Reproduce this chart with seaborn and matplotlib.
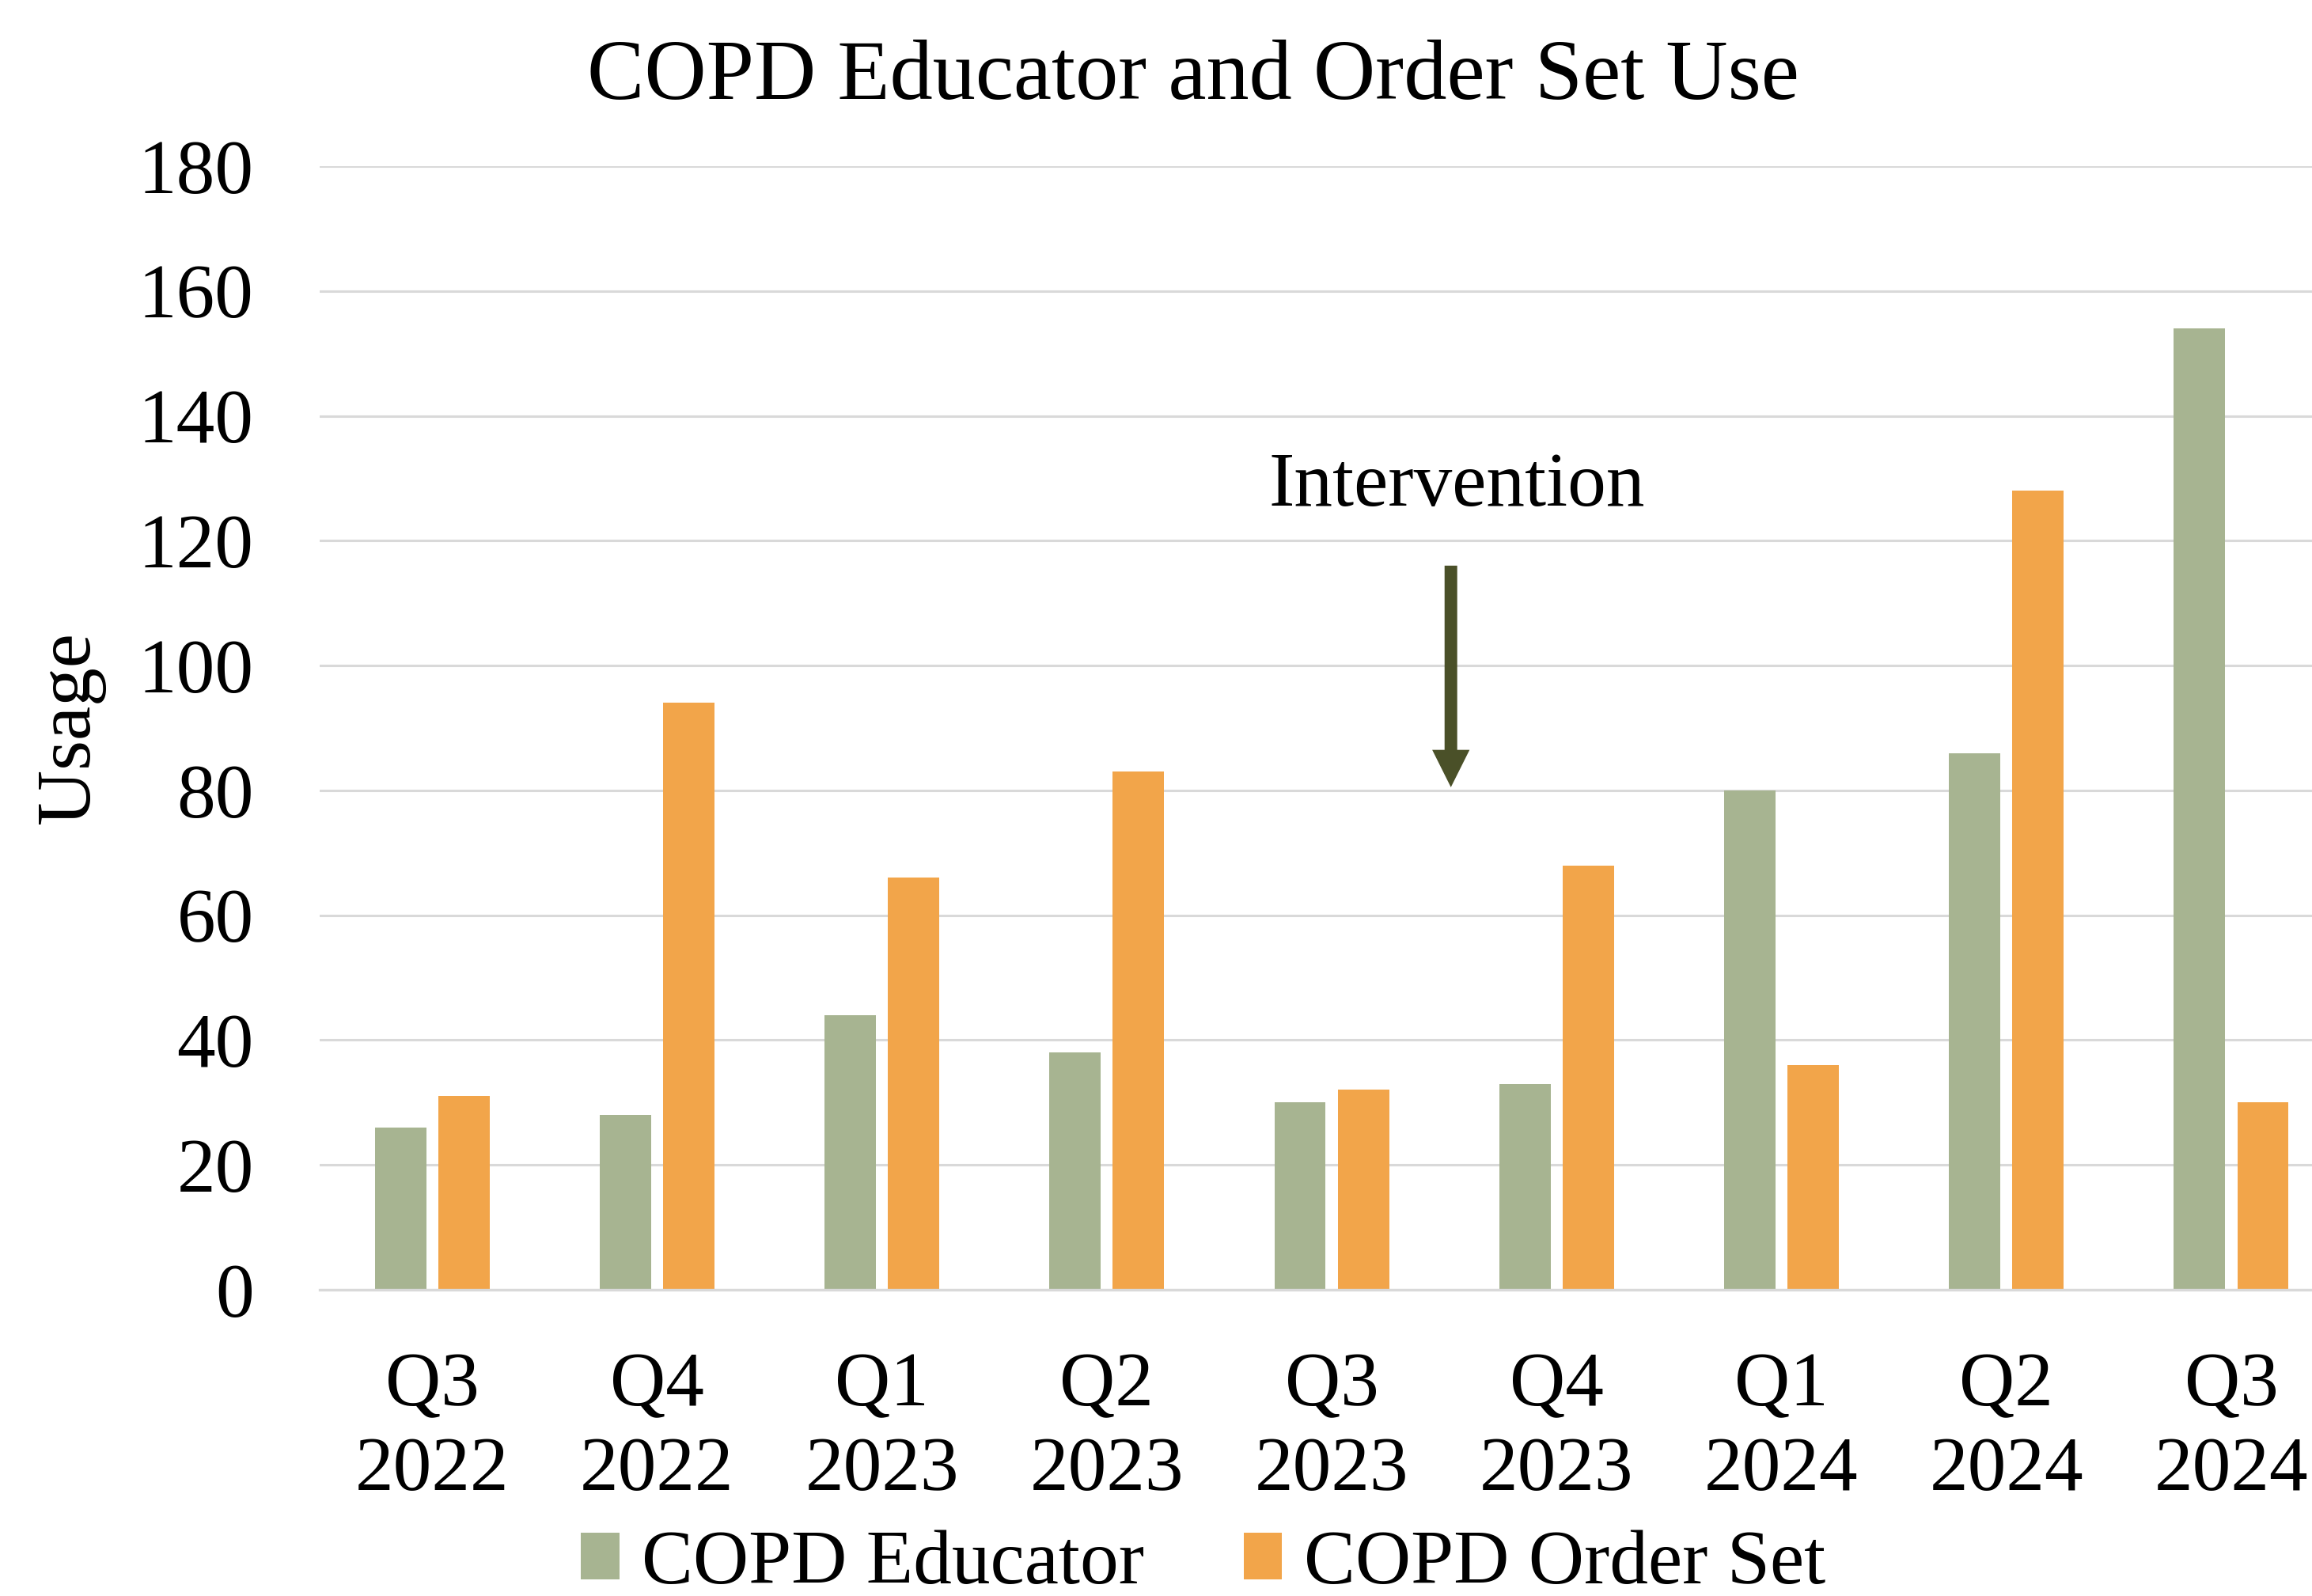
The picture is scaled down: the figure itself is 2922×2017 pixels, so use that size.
import matplotlib
matplotlib.use("Agg")
import matplotlib.pyplot as plt
from matplotlib.patches import FancyArrowPatch
import pandas as pd
import seaborn as sns

# Quarterly usage counts
quarters = ["Q3\n2022", "Q4\n2022", "Q1\n2023", "Q2\n2023", "Q3\n2023",
            "Q4\n2023", "Q1\n2024", "Q2\n2024", "Q3\n2024"]
educator = [26, 28, 44, 38, 30, 33, 80, 86, 154]
order_set = [31, 94, 66, 83, 32, 68, 36, 128, 30]
series_names = ["COPD Educator", "COPD Order Set"]
series_colors = ["#A7B491", "#F2A54A"]
y_ticks = [0, 20, 40, 60, 80, 100, 120, 140, 160, 180]

# Intervention marker (category position, arrow start/end, label height)
intervention_x = 4.53
arrow_from, arrow_to = 116.0, 80.5
label_y = 125.6

df = pd.DataFrame({
    "quarter": quarters * 2,
    "usage": educator + order_set,
    "series": [series_names[0]] * len(quarters) + [series_names[1]] * len(quarters),
})

sns.set_style("white")
plt.rcParams["font.family"] = ["Liberation Serif", "DejaVu Serif"]
for key in ["text.color", "axes.labelcolor", "xtick.color", "ytick.color"]:
    plt.rcParams[key] = "black"

fig = plt.figure(figsize=(29.22, 20.17), dpi=100)
ax = fig.add_axes([0.1383, 0.1919, 0.8754, 0.704])

sns.barplot(data=df, x="quarter", y="usage", hue="series", order=quarters,
            hue_order=series_names, palette=series_colors, width=0.564, gap=0.19,
            linewidth=0, saturation=1, ax=ax)

ax.set_xlim(-0.5, len(quarters) - 0.5)
ax.set_ylim(0, 180)
ax.set_yticks(y_ticks)
ax.set_axisbelow(True)
ax.yaxis.grid(True, color="#D9D9D9", linewidth=2.2)
ax.xaxis.grid(False)
for side in ["top", "right", "left"]:
    ax.spines[side].set_visible(False)
ax.spines["bottom"].set_color("#D9D9D9")
ax.spines["bottom"].set_linewidth(2.4)

ax.tick_params(axis="y", length=0, pad=60, labelsize=70, labelcolor="black")
ax.tick_params(axis="x", length=0, pad=57, labelsize=70, labelcolor="black")
for lbl in ax.get_xticklabels():
    lbl.set_linespacing(1.26)

ax.set_xlabel("")
ax.set_ylabel("Usage", fontsize=70, labelpad=30, color="black")

# Intervention annotation
arrow = FancyArrowPatch((intervention_x, arrow_from), (intervention_x, arrow_to),
                        arrowstyle="simple,head_width=34,head_length=34,tail_width=11.5",
                        mutation_scale=1, shrinkA=0, shrinkB=0,
                        color="#4A5028", linewidth=0)
ax.add_patch(arrow)
ax.text(intervention_x + 0.026, label_y, "Intervention", fontsize=70,
        ha="center", va="baseline", color="black")

fig.text(0.516, 0.938, "COPD Educator and Order Set Use", fontsize=78,
         ha="center", va="baseline", color="black")

handles, labels = ax.get_legend_handles_labels()
ax.get_legend().remove()
leg = fig.legend(handles, labels, loc="center", bbox_to_anchor=(0.5205, 0.0195),
                 ncol=2, frameon=False, fontsize=70, handlelength=0.5,
                 handleheight=0.55, handletextpad=0.29, columnspacing=1.29,
                 borderpad=0, borderaxespad=0)
for t in leg.get_texts():
    t.set_color("black")

fig.savefig("out.png", dpi=100)
